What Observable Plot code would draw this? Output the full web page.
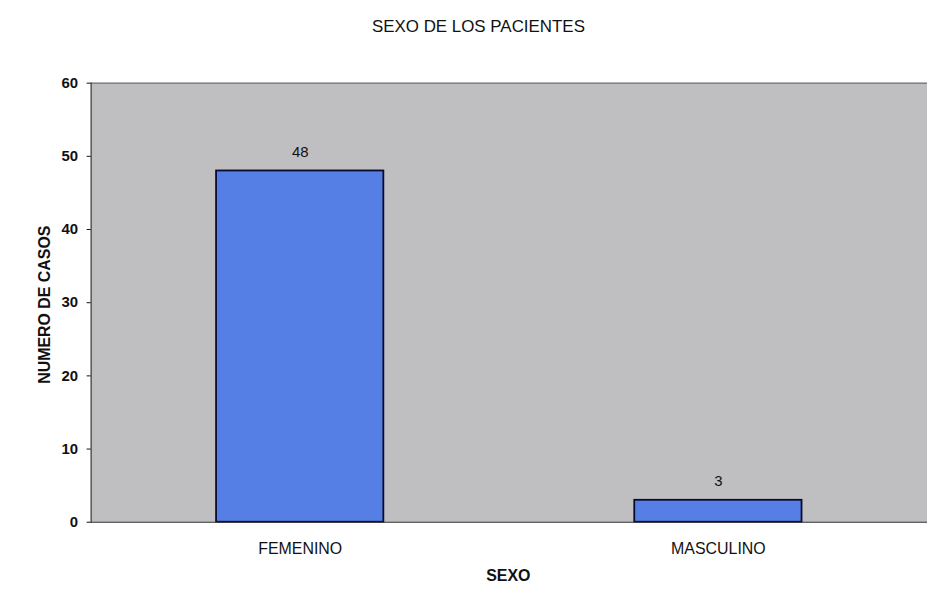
<!DOCTYPE html>
<html>
<head>
<meta charset="utf-8">
<script src="https://cdn.jsdelivr.net/npm/d3@7"></script>
<script src="https://cdn.jsdelivr.net/npm/@observablehq/plot@0.6"></script>
<style>
  html, body { margin: 0; padding: 0; background: #fff; }
  #wrap { width: 927px; height: 607px; overflow: hidden; position: relative; }
</style>
</head>
<body>
<div id="wrap"></div>
<script>
const categories = ["FEMENINO", "MASCULINO"];
const values = [48, 3];
const yTicks = [0, 10, 20, 30, 40, 50, 60];
const title = "SEXO DE LOS PACIENTES";
const xTitle = "SEXO";
const yTitle = "NUMERO DE CASOS";

const data = categories.map((c, i) => ({ sexo: c, casos: values[i] }));

const chart = Plot.plot({
  width: 931,
  height: 607,
  marginLeft: 91,
  marginRight: 0,
  marginTop: 83,
  marginBottom: 83,
  style: { fontFamily: "Liberation Sans, Arial, sans-serif", fontSize: "15px", color: "#111", background: "#fff" },
  x: { domain: categories, paddingInner: 0.6, paddingOuter: 0.3, label: null },
  y: { domain: [0, 60], ticks: yTicks, label: null },
  marks: [
    Plot.frame({ fill: "#bfbfc2", stroke: null }),
    Plot.ruleY([60], { stroke: "#6a6a6a", strokeWidth: 1.2 }),
    Plot.barY(data, { x: "sexo", y: "casos", fill: "#557fe4", stroke: "#0a0a30", strokeWidth: 1.8 }),
    Plot.text(data, { x: "sexo", y: "casos", text: d => String(d.casos), dy: -19, fontSize: 15, fill: "#111" }),
    Plot.ruleY([0], { stroke: "#333", strokeWidth: 1.2 }),
    Plot.frame({ anchor: "left", stroke: "#333", strokeWidth: 1.2 }),
    Plot.axisY({ ticks: yTicks, tickSize: 4, tickPadding: 9, fontWeight: "bold", fontSize: 15, label: null }),
    Plot.axisX({ tickSize: 0, tickPadding: 21, fontSize: 16, label: null }),
    Plot.text([xTitle], { frameAnchor: "bottom", textAnchor: "middle", lineAnchor: "middle", dy: 54, dx: -1, fontWeight: "bold", fontSize: 16 }),
    Plot.text([yTitle], { frameAnchor: "left", textAnchor: "middle", lineAnchor: "middle", dx: -46, dy: 2, rotate: -90, fontWeight: "bold", fontSize: 16 }),
    Plot.text([title], { frameAnchor: "top", textAnchor: "middle", lineAnchor: "middle", dy: -57, dx: -31, fontSize: 17 })
  ]
});
document.getElementById("wrap").appendChild(chart);
</script>
</body>
</html>
